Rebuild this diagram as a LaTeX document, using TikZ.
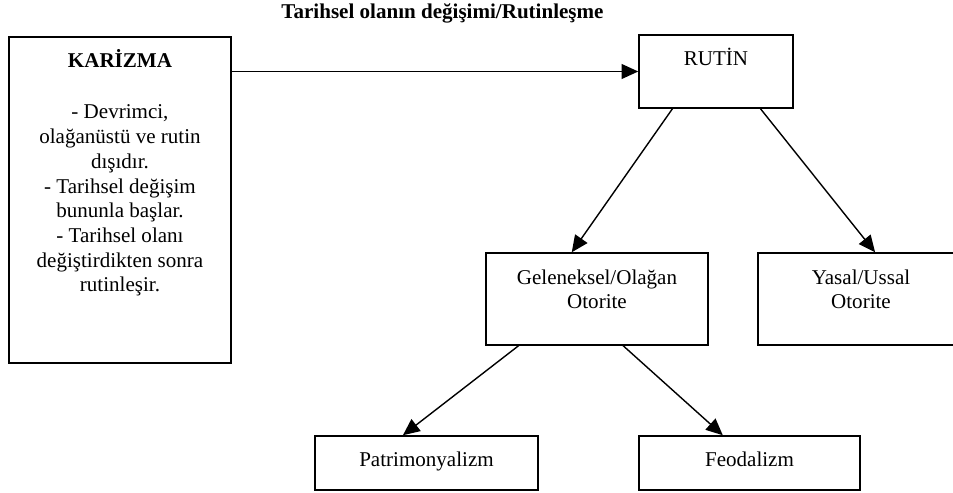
\documentclass[tikz,border=0pt]{standalone}
\usepackage{fontspec}
\setmainfont{Liberation Serif}
\usetikzlibrary{arrows.meta}
\usetikzlibrary{calc}
\tikzstyle{graph}=[x=0.57pt, y=-0.57pt, font=\fontsize{12}{14.1}\selectfont]
\tikzstyle{kutu}=[rectangle, draw, line width=0.85pt, inner sep=0pt]
\tikzstyle{yazi}=[anchor=base, align=center, inner sep=0pt]
\tikzstyle{edge}=[-{Triangle[length=9.5pt,width=8.5pt]}, line width=0.8pt]

\begin{document}
\begin{tikzpicture}[graph]
	\useasboundingbox (0,0) rectangle (953,493);
	\draw (442.5,19) node[yazi, font=\fontsize{12}{14.1}\selectfont\bfseries] (baslik) {Tarihsel olanın değişimi/Rutinleşme};
	\draw (120,200) node[kutu, minimum width=126.5pt, minimum height=185.8pt] (karizma) {};
	\draw (716,71.5) node[kutu, minimum width=87.8pt, minimum height=41.6pt] (rutin) {};
	\draw (597,299) node[kutu, minimum width=126.5pt, minimum height=52.4pt] (gelenek) {};
	\draw (861,299) node[kutu, minimum width=117.4pt, minimum height=52.4pt] (yasal) {};
	\draw (426.5,463) node[kutu, minimum width=127.1pt, minimum height=30.8pt] (patri) {};
	\draw (749.5,463) node[kutu, minimum width=126pt, minimum height=30.8pt] (feodal) {};
	% kutu yazilari (base = son satir)
	\draw (120,292) node[yazi] (karizmayazi) {\textbf{KARİZMA}\\[15pt] - Devrimci,\\ olağanüstü ve rutin\\ dışıdır.\\ - Tarihsel değişim\\ bununla başlar.\\ - Tarihsel olanı\\ değiştirdikten sonra\\ rutinleşir.};
	\draw (716,66) node[yazi] (rutinyazi) {RUTİN};
	\draw (597,309) node[yazi] (gelenekyazi) {Geleneksel/Olağan\\ Otorite};
	\draw (861,309) node[yazi] (yasalyazi) {Yasal/Ussal\\ Otorite};
	\draw (426.5,467) node[yazi] (patriyazi) {Patrimonyalizm};
	\draw (749.5,467) node[yazi] (feodalyazi) {Feodalizm};
	% oklar
	\draw[edge] (karizma.east |- rutin.west) -- (rutin.west);
	\draw[edge] ($(rutin.south west)!0.22!(rutin.south east)$) -- ($(gelenek.north west)!0.387!(gelenek.north east)$);
	\draw[edge] ($(rutin.south west)!0.786!(rutin.south east)$) -- ($(yasal.north west)!0.568!(yasal.north east)$);
	\draw[edge] ($(gelenek.south west)!0.149!(gelenek.south east)$) -- ($(patri.north west)!0.395!(patri.north east)$);
	\draw[edge] ($(gelenek.south west)!0.617!(gelenek.south east)$) -- ($(feodal.north west)!0.38!(feodal.north east)$);
\end{tikzpicture}
\end{document}
